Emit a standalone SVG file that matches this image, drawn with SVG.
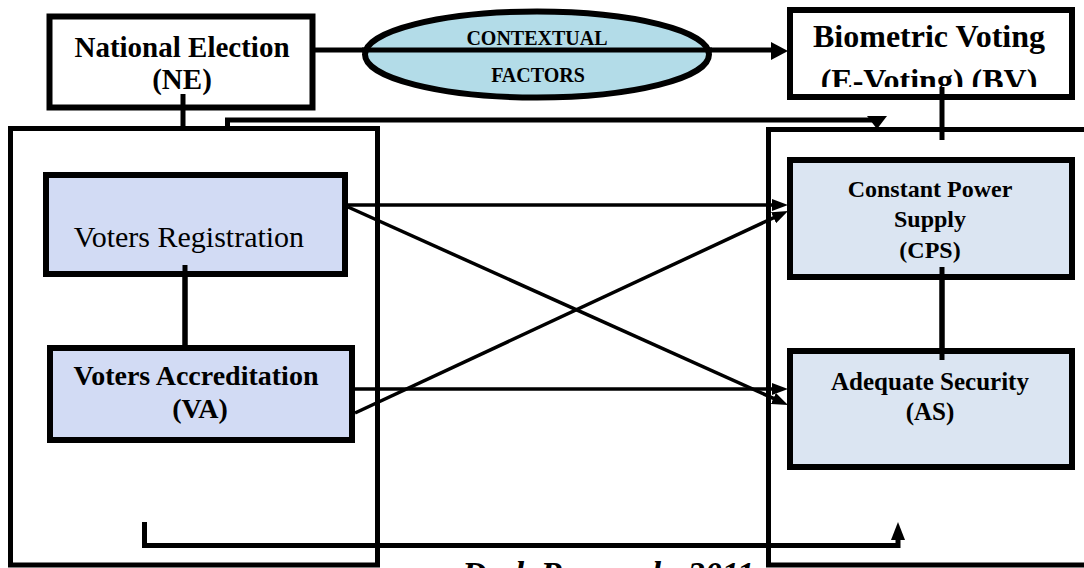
<svg xmlns="http://www.w3.org/2000/svg" width="1084" height="568" viewBox="0 0 1084 568">
<style>
  .t{font-family:"Liberation Serif","Times New Roman",serif;fill:#000;text-anchor:middle}
  .b{font-weight:bold}
  .box{stroke:#000;stroke-width:6}
  .cont{fill:none;stroke:#000;stroke-width:5}
  .thick{fill:none;stroke:#000;stroke-width:5}
  .thin{fill:none;stroke:#000;stroke-width:3.5}
  .lav{fill:#d2dbf4}
  .ice{fill:#dbe5f2}
</style>
<defs>
  <marker id="arr" viewBox="0 0 16 12" refX="8" refY="6" markerWidth="16" markerHeight="12" markerUnits="userSpaceOnUse" orient="auto">
    <path d="M0,0 L16,6 L0,12 z" fill="#000"/>
  </marker>
  <clipPath id="bvclip"><rect x="792" y="12" width="278" height="75"/></clipPath>
</defs>
<rect width="1084" height="568" fill="#fff"/>

<g id="containers">
  <rect id="left-container" class="cont" x="10.5" y="128.5" width="367" height="436.5"/>
  <rect id="right-container" class="cont" x="768.5" y="129.5" width="330" height="435.5"/>
</g>

<g id="connectors">
  <line class="thick" x1="315" y1="50" x2="772" y2="50"/>
  <polygon points="771,42 788,51 771,60" fill="#000"/>
  <line class="thick" x1="183" y1="110" x2="183" y2="128"/>
  <path class="thick" d="M227.5,128 V120 H877 V118"/>
  <polygon points="867,116 887,116 877,129" fill="#000"/>
  <line class="thick" x1="942" y1="87" x2="942" y2="140"/>
  <line class="thick" x1="185" y1="265" x2="185" y2="360"/>
  <line class="thick" x1="942" y1="267" x2="942" y2="360"/>
  <path class="thick" d="M144.5,522 V545.5 H898 V536"/>
  <polygon points="891,540 898,522 905,540" fill="#000"/>
</g>

<g id="ellipse-contextual">
  <ellipse cx="537" cy="54.5" rx="172" ry="43" fill="#b3dce8" stroke="#000" stroke-width="6"/>
  <line class="thick" x1="362" y1="50" x2="712" y2="50"/>
  <text class="t b" x="537" y="45" font-size="20">CONTEXTUAL</text>
  <text class="t b" x="538" y="82" font-size="20">FACTORS</text>
</g>

<g id="node-ne">
  <rect class="box" x="49.5" y="16.5" width="263" height="91" fill="#fff" stroke-width="5"/>
  <text class="t b" x="182" y="57" font-size="29">National Election</text>
  <text class="t b" x="182" y="89" font-size="29">(NE)</text>
  <line class="thick" x1="183" y1="94" x2="183" y2="110"/>
</g>

<g id="node-bv">
  <rect class="box" x="790" y="10" width="282" height="87" fill="#fff"/>
  <text class="t b" x="929" y="47" font-size="32">Biometric Voting</text>
  <text class="t b" x="929" y="91" font-size="32" clip-path="url(#bvclip)">(E-Voting) (BV)</text>
  <line class="thick" x1="942" y1="87" x2="942" y2="100"/>
</g>

<g id="node-vr">
  <rect class="box lav" x="46" y="175" width="299" height="99"/>
  <text class="t" x="189" y="247" font-size="30">Voters Registration</text>
</g>

<g id="node-va">
  <rect class="box lav" x="50" y="348" width="302" height="92"/>
  <text class="t b" x="196" y="385" font-size="28">Voters Accreditation</text>
  <text class="t b" x="200" y="418" font-size="28">(VA)</text>
</g>

<g id="node-cps">
  <rect class="box ice" x="790" y="160" width="282" height="117"/>
  <text class="t b" x="930" y="197" font-size="24">Constant Power</text>
  <text class="t b" x="930" y="227" font-size="24">Supply</text>
  <text class="t b" x="930" y="258" font-size="24">(CPS)</text>
</g>

<g id="node-as">
  <rect class="box ice" x="790" y="351" width="282" height="116"/>
  <text class="t b" x="930" y="390" font-size="25">Adequate Security</text>
  <text class="t b" x="930" y="420" font-size="25">(AS)</text>
</g>

<g id="links">
  <line class="thick" x1="185" y1="265" x2="185" y2="351"/>
  <line class="thick" x1="942" y1="267" x2="942" y2="360"/>
  <line class="thin" x1="348" y1="205" x2="780" y2="205" marker-end="url(#arr)"/>
  <line class="thin" x1="348" y1="207" x2="780.7" y2="401.7" marker-end="url(#arr)"/>
  <line class="thin" x1="355" y1="413" x2="780.8" y2="214.4" marker-end="url(#arr)"/>
  <line class="thin" x1="355" y1="389" x2="780" y2="389" marker-end="url(#arr)"/>
</g>

<text class="t b" x="608" y="585" font-size="34" font-style="italic">Desk Research, 2011</text>
</svg>
